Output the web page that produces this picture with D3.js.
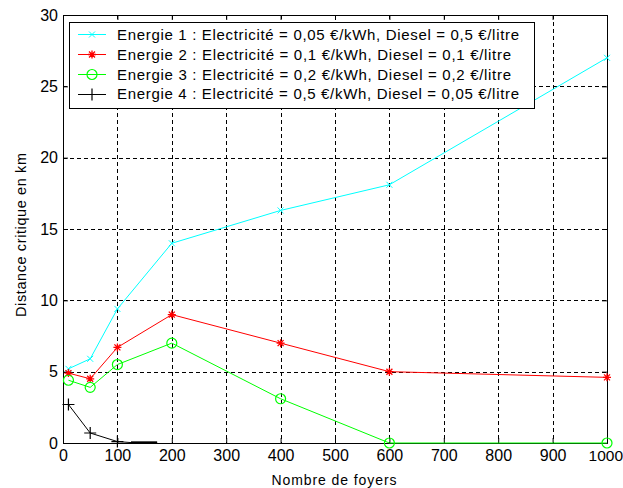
<!DOCTYPE html>
<html><head><meta charset="utf-8">
<script src="https://cdn.jsdelivr.net/npm/d3@7"></script>
<style>body{margin:0;background:#fff}svg{display:block}text{font-family:"Liberation Sans",Arial,sans-serif}</style>
</head><body>
<svg id="c" width="623" height="488"></svg>
<script>
const xTicks = [0,100,200,300,400,500,600,700,800,900,1000];
const yTicks = [0,5,10,15,20,25,30];
const xMain = [10,50,100,200,400,600,1000];
const energie1 = [5.2,5.9,9.4,14.0,16.3,18.1,27.0];
const energie2 = [4.9,4.5,6.7,9.0,7.0,5.0,4.6];
const energie3 = [4.4,3.9,5.5,7.0,3.1,0,0];
const x4 = [10,50,100,125,173];
const energie4 = [2.7,0.7,0.1,0.03,0.03];
const labels = [
 "Energie 1 : Electricité = 0,05 €/kWh, Diesel = 0,5 €/litre",
 "Energie 2 : Electricité = 0,1 €/kWh, Diesel = 0,1 €/litre",
 "Energie 3 : Electricité = 0,2 €/kWh, Diesel = 0,2 €/litre",
 "Energie 4 : Electricité = 0,5 €/kWh, Diesel = 0,05 €/litre"];
const labelWidths = [402,394,394,402];
const colors = ["#00ffff","#ff0000","#00ff00","#000000"];
const markers = ["x","star","circle","plus"];

const svg = d3.select("#c");
const L=63,R=607,T=15,B=443;
const x = d3.scaleLinear().domain([0,1000]).range([L,R]);
const y = d3.scaleLinear().domain([0,30]).range([B,T]);

// grid
const g = svg.append("g");
xTicks.slice(1,-1).forEach(t=>g.append("line").attr("x1",Math.round(x(t))+0.5).attr("x2",Math.round(x(t))+0.5).attr("y1",T).attr("y2",B)
  .attr("stroke","#000").attr("stroke-dasharray","4,3"));
yTicks.slice(1,-1).forEach(t=>g.append("line").attr("x1",L).attr("x2",R).attr("y1",Math.round(y(t))+0.5).attr("y2",Math.round(y(t))+0.5)
  .attr("stroke","#000").attr("stroke-dasharray","4,3"));

// axes
const fmt = d=>String(d);
const xb = svg.append("g").attr("transform",`translate(0,${B})`)
  .call(d3.axisBottom(x).tickValues(xTicks).tickSize(-5).tickPadding(7).tickFormat(fmt));
svg.append("g").attr("transform",`translate(0,${T})`)
  .call(d3.axisTop(x).tickValues(xTicks).tickSize(-5).tickFormat(""));
svg.append("g").attr("transform",`translate(${L},0)`)
  .call(d3.axisLeft(y).tickValues(yTicks).tickSize(-5).tickPadding(5).tickFormat(fmt));
svg.append("g").attr("transform",`translate(${R},0)`)
  .call(d3.axisRight(y).tickValues(yTicks).tickSize(-5).tickFormat(""));
svg.selectAll(".domain").attr("stroke","#000");
svg.selectAll(".tick line").attr("stroke","#000");
svg.selectAll(".tick text").attr("font-size",16).attr("font-family","Liberation Sans, Arial, sans-serif").attr("fill","#000");
// keep the last x label inside the picture
xb.selectAll(".tick text").filter(d=>d===1000).attr("text-anchor","end").attr("x",15.5).attr("font-size",15.5);

function marker(sel,type,cx,cy,col){
  const s=4;
  if(type==="x"){
    sel.append("path").attr("d",`M${cx-3},${cy-3}L${cx+3},${cy+3}M${cx-3},${cy+3}L${cx+3},${cy-3}`).attr("stroke",col);
  } else if(type==="star"){
    sel.append("path").attr("d",`M${cx-s},${cy}L${cx+s},${cy}M${cx},${cy-s}L${cx},${cy+s}M${cx-3},${cy-3}L${cx+3},${cy+3}M${cx-3},${cy+3}L${cx+3},${cy-3}`).attr("stroke",col).attr("stroke-width",1.3);
  } else if(type==="circle"){
    sel.append("circle").attr("cx",cx).attr("cy",cy).attr("r",5).attr("fill","none").attr("stroke",col).attr("stroke-width",1.2);
  } else {
    sel.append("path").attr("d",`M${cx-6},${cy}L${cx+6},${cy}M${cx},${cy-6}L${cx},${cy+6}`).attr("stroke",col).attr("stroke-width",1.2);
  }
}

const series = [
  {xs:xMain, ys:energie1, nm:xMain.length},
  {xs:xMain, ys:energie2, nm:xMain.length},
  {xs:xMain, ys:energie3, nm:xMain.length},
  {xs:x4, ys:energie4, nm:3}
];
const line = d3.line().x(d=>x(d[0])).y(d=>y(d[1]));
const pg = svg.append("g");
series.forEach((s,i)=>{
  const pts = s.xs.map((v,j)=>[v,s.ys[j]]);
  pg.append("path").attr("d",line(pts)).attr("fill","none").attr("stroke",colors[i]).attr("stroke-width",1);
  pts.slice(0,s.nm).forEach(p=>marker(pg,markers[i],x(p[0]),y(p[1]),colors[i]));
});
// thick tail of series 4
pg.append("path").attr("d",line([[x4[3],energie4[3]],[x4[4],energie4[4]]])).attr("stroke","#000").attr("stroke-width",2.5);

// legend
const lg = svg.append("g");
lg.append("rect").attr("x",69.5).attr("y",22.5).attr("width",465).attr("height",86).attr("fill","#fff").attr("stroke","#000");
labels.forEach((t,i)=>{
  const cy=34.5+i*20;
  lg.append("line").attr("x1",78).attr("x2",106).attr("y1",cy).attr("y2",cy).attr("stroke",colors[i]).attr("stroke-width",1);
  marker(lg,markers[i],92,cy,colors[i]);
  lg.append("text").attr("x",117).attr("y",40+i*19.8).attr("font-size",15)
    .attr("textLength",labelWidths[i]).attr("lengthAdjust","spacing").text(t);
});

// axis labels
svg.append("text").attr("x",334).attr("y",485).attr("text-anchor","middle").attr("font-size",14)
  .attr("textLength",125).attr("lengthAdjust","spacing").text("Nombre de foyers");
svg.append("text").attr("transform",`translate(26,235) rotate(-90)`).attr("text-anchor","middle").attr("font-size",14.5)
  .attr("textLength",164).attr("lengthAdjust","spacing").text("Distance critique en km");
</script>
</body></html>
